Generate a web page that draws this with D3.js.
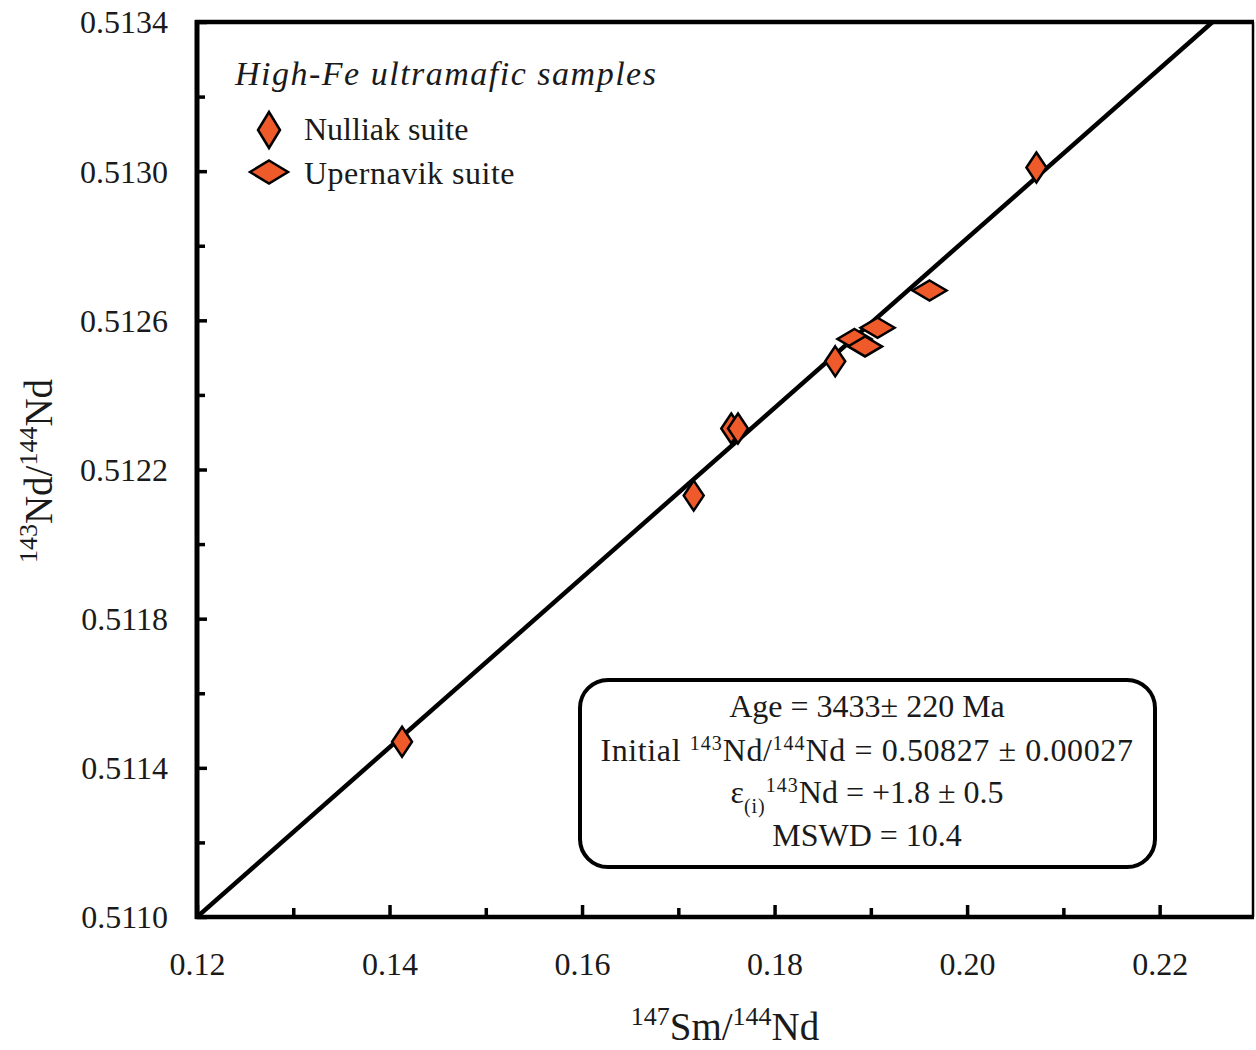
<!DOCTYPE html>
<html>
<head>
<meta charset="utf-8">
<script src="https://cdn.jsdelivr.net/npm/d3@7"></script>
<style>
  body { margin: 0; background: #fff; }
  svg { display: block; font-family: "Liberation Serif", "Times New Roman", serif; }
</style>
</head>
<body>
<div id="chart"></div>
<script>
// data
const nulliakSm = [0.1413, 0.1716, 0.1755, 0.1762, 0.1863, 0.2072];
const nulliakNd = [0.51147, 0.51213, 0.51231, 0.51231, 0.51249, 0.51301];
const upernavikSm = [0.1883, 0.1894, 0.1907, 0.1961];
const upernavikNd = [0.51255, 0.51253, 0.51258, 0.51268];

const isoIntercept = 0.50827;
const isoSlope = 0.02275;

const xMajorTicks = [0.12, 0.14, 0.16, 0.18, 0.20, 0.22];
const xMinorTicks = [0.13, 0.15, 0.17, 0.19, 0.21];
const yMajorTicks = [0.5110, 0.5114, 0.5118, 0.5122, 0.5126, 0.5130, 0.5134];
const yMinorTicks = [0.5112, 0.5116, 0.5120, 0.5124, 0.5128, 0.5132];

const statLines = [
  [{ t: "Age = 3433± 220 Ma" }],
  [{ t: "Initial " }, { t: "143", sup: true }, { t: "Nd/" }, { t: "144", sup: true }, { t: "Nd = 0.50827 ± 0.00027" }],
  [{ t: "ε" }, { t: "(i)", sub: true }, { t: "143", sup: true }, { t: "Nd = +1.8 ± 0.5" }],
  [{ t: "MSWD = 10.4" }]
];

const W = 1256, H = 1050;
const plotL = 197, plotR = 1253, plotT = 22, plotB = 917;
const fillCol = "#ef5a2a";

const svg = d3.select("#chart").append("svg")
  .attr("width", W).attr("height", H);

const x = d3.scaleLinear().domain([0.12, 0.2297]).range([plotL, plotR]);
const y = d3.scaleLinear().domain([0.5110, 0.5134]).range([plotB, plotT]);

// diamond path, half-width w, half-height h
function diamond(w, h) {
  return `M0,${-h}L${w},0L0,${h}L${-w},0Z`;
}

svg.append("clipPath").attr("id", "plotclip")
  .append("rect").attr("x", plotL).attr("y", plotT)
  .attr("width", plotR - plotL).attr("height", plotB - plotT);

// isochron
const lineX = [0.12, (0.5134 - isoIntercept) / isoSlope];
svg.append("path")
  .attr("clip-path", "url(#plotclip)")
  .attr("d", d3.line().x(d => x(d)).y(d => y(isoIntercept + isoSlope * d))(lineX))
  .attr("fill", "none").attr("stroke", "#000").attr("stroke-width", 4.5);

// axes with inward ticks
function styleAxis(g) {
  g.select(".domain").remove();
  g.selectAll(".tick line").attr("stroke", "#000").attr("stroke-width", 3.5);
  g.selectAll(".tick text").attr("font-family", "Liberation Serif").attr("font-size", 32).attr("fill", "#1a1a1a");
}

svg.append("g").attr("transform", `translate(0,${plotB})`)
  .call(d3.axisBottom(x).tickValues(xMajorTicks).tickSize(-12).tickPadding(0).tickFormat(d3.format(".2f")))
  .call(styleAxis)
  .selectAll(".tick text").attr("y", 58).attr("dy", 0);

svg.append("g").attr("transform", `translate(0,${plotB})`)
  .call(d3.axisBottom(x).tickValues(xMinorTicks).tickSize(-9).tickFormat(""))
  .call(styleAxis);

svg.append("g").attr("transform", `translate(${plotL},0)`)
  .call(d3.axisLeft(y).tickValues(yMajorTicks).tickSize(-10).tickFormat(d3.format(".4f")))
  .call(styleAxis)
  .selectAll(".tick text").attr("x", -29).attr("dy", "0.34em");

svg.append("g").attr("transform", `translate(${plotL},0)`)
  .call(d3.axisLeft(y).tickValues(yMinorTicks).tickSize(-8).tickFormat(""))
  .call(styleAxis);

// frame
svg.append("line").attr("x1", plotL).attr("x2", plotL).attr("y1", plotT - 2).attr("y2", plotB + 2)
  .attr("stroke", "#000").attr("stroke-width", 5);
svg.append("line").attr("x1", plotL - 2).attr("x2", plotR + 1).attr("y1", plotB).attr("y2", plotB)
  .attr("stroke", "#000").attr("stroke-width", 4.5);
svg.append("line").attr("x1", plotL - 2).attr("x2", plotR + 1).attr("y1", plotT).attr("y2", plotT)
  .attr("stroke", "#000").attr("stroke-width", 4.5);
svg.append("line").attr("x1", plotR).attr("x2", plotR).attr("y1", plotT).attr("y2", plotB)
  .attr("stroke", "#000").attr("stroke-width", 2.5);

// points
const upData = upernavikSm.map((v, i) => ({ x: v, y: upernavikNd[i] }));
const nuData = nulliakSm.map((v, i) => ({ x: v, y: nulliakNd[i] }));

svg.append("g").selectAll("path").data(upData).join("path")
  .attr("transform", d => `translate(${x(d.x)},${y(d.y)})`)
  .attr("d", diamond(17, 10))
  .attr("fill", fillCol).attr("stroke", "#000").attr("stroke-width", 2.5);

svg.append("g").selectAll("path").data(nuData).join("path")
  .attr("transform", d => `translate(${x(d.x)},${y(d.y)})`)
  .attr("d", diamond(10, 15))
  .attr("fill", fillCol).attr("stroke", "#000").attr("stroke-width", 2.5);

// legend
svg.append("text").attr("x", 235).attr("y", 85)
  .attr("font-size", 34).attr("font-style", "italic").attr("letter-spacing", 1.5).attr("fill", "#1a1a1a")
  .text("High-Fe ultramafic samples");

svg.append("path").attr("transform", "translate(269,130)")
  .attr("d", diamond(11, 18))
  .attr("fill", fillCol).attr("stroke", "#000").attr("stroke-width", 2.5);
svg.append("text").attr("x", 304).attr("y", 140)
  .attr("font-size", 32).attr("fill", "#1a1a1a").text("Nulliak suite");

svg.append("path").attr("transform", "translate(269,172)")
  .attr("d", diamond(19, 11.5))
  .attr("fill", fillCol).attr("stroke", "#000").attr("stroke-width", 2.5);
svg.append("text").attr("x", 304).attr("y", 184)
  .attr("font-size", 32).attr("letter-spacing", 0.5).attr("fill", "#1a1a1a").text("Upernavik suite");

// stats box
svg.append("rect").attr("x", 580).attr("y", 680).attr("width", 575).attr("height", 187)
  .attr("rx", 28).attr("ry", 28)
  .attr("fill", "#fff").attr("stroke", "#000").attr("stroke-width", 4);

const boxBase = [717, 761, 803, 846];
statLines.forEach((parts, i) => {
  const t = svg.append("text").attr("x", 867).attr("y", boxBase[i])
    .attr("text-anchor", "middle").attr("font-size", 32).attr("fill", "#1a1a1a");
  let shift = 0;
  parts.forEach(p => {
    let target = p.sup ? -11 : p.sub ? 10 : 0;
    const ts = t.append("tspan").attr("dy", target - shift).text(p.t);
    if (p.sup || p.sub) ts.attr("font-size", 20).attr("letter-spacing", 1);
    else if (i === 1) ts.attr("letter-spacing", 0.6);
    shift = target;
  });
});

// axis titles
const xt = svg.append("text").attr("x", 725).attr("y", 1040)
  .attr("text-anchor", "middle").attr("font-size", 39).attr("fill", "#1a1a1a");
xt.append("tspan").attr("font-size", 26).attr("dy", -15).text("147");
xt.append("tspan").attr("dy", 15).text("Sm/");
xt.append("tspan").attr("font-size", 26).attr("dy", -15).text("144");
xt.append("tspan").attr("dy", 15).text("Nd");

const yt = svg.append("text").attr("transform", "translate(52,471) rotate(-90)")
  .attr("text-anchor", "middle").attr("font-size", 39).attr("fill", "#1a1a1a");
yt.append("tspan").attr("font-size", 26).attr("dy", -15).text("143");
yt.append("tspan").attr("dy", 15).text("Nd/");
yt.append("tspan").attr("font-size", 26).attr("dy", -15).text("144");
yt.append("tspan").attr("dy", 15).text("Nd");
</script>
</body>
</html>
